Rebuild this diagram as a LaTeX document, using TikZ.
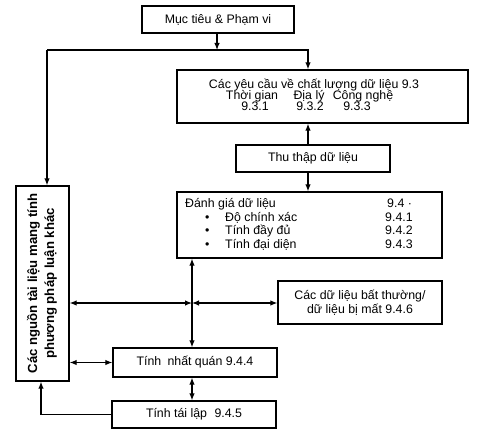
\documentclass[tikz,border=0pt]{standalone}
\usepackage{fontspec}
\setmainfont{Liberation Sans}
\usetikzlibrary{arrows.meta}
\begin{document}
\begin{tikzpicture}[x=1bp,y=-1bp,
  every node/.style={font=\fontsize{12.4}{14}\selectfont, inner sep=0pt},
  box/.style={draw, line width=1.3bp, fill=white},
  txt/.style={anchor=base},
  txtw/.style={anchor=base west},
  conn/.style={line width=1.2bp},
  arr/.style={conn, -{Latex[length=7bp,width=5.5bp]}},
  dbl/.style={conn, {Latex[length=7bp,width=5.5bp]}-{Latex[length=7bp,width=5.5bp]}}]
\useasboundingbox (0,0) rectangle (477,441);
% boxes
\node (goal) [box, minimum width=152bp, minimum height=27bp] at (218,19.5) {Mục tiêu \& Phạm vi};
\node (req) [box, minimum width=291bp, minimum height=53bp] at (322.5,96.5) {};
\node (collect) [box, minimum width=154bp, minimum height=27bp] at (313,158.5) {Thu thập dữ liệu};
\node (eval) [box, minimum width=265bp, minimum height=66bp] at (309.5,225) {};
\node (other) [box, minimum width=53bp, minimum height=195bp] at (42.5,283.5) {};
\node (anom) [box, minimum width=164bp, minimum height=43bp, align=center,
  font=\fontsize{12.4}{14}\selectfont] at (360,302.5) {Các dữ liệu bất thường/\\dữ liệu bị mất 9.4.6};
\node (cons) [box, minimum width=164bp, minimum height=29bp] at (195,362.5) {Tính\hspace{0.5em}nhất quán 9.4.4};
\node (repro) [box, minimum width=164bp, minimum height=27bp] at (194,414.5) {Tính tái lập\hspace{0.6em}9.4.5};
% texts in requirement box
\node (r0) [txt] at (314,88.5) {Các yêu cầu về chất lượng dữ liệu 9.3};
\node (r1) [txt] at (252,99.5) {Thời gian};
\node (r2) [txt] at (309,99.5) {Địa lý};
\node (r3) [txt] at (363,99.5) {Công nghệ};
\node (r4) [txt] at (255,111) {9.3.1};
\node (r5) [txt] at (310,111) {9.3.2};
\node (r6) [txt] at (357,111) {9.3.3};
% texts in evaluation box
\node (e0) [txtw] at (185,207.5) {Đánh giá dữ liệu};
\node (e0n) [txtw] at (387,207.5) {9.4 ·};
\node (b1) [txtw] at (205,221.5) {•};
\node (b2) [txtw] at (205,234.5) {•};
\node (b3) [txtw] at (205,248.5) {•};
\node (e1) [txtw] at (225,221.5) {Độ chính xác};
\node (e2) [txtw] at (225,234.5) {Tính đầy đủ};
\node (e3) [txtw] at (225,248.5) {Tính đại diện};
\node (e1n) [txtw] at (385,221.5) {9.4.1};
\node (e2n) [txtw] at (385,234.5) {9.4.2};
\node (e3n) [txtw] at (385,248.5) {9.4.3};
% rotated text in left box
\node (otherT) [rotate=90, align=center, font=\fontsize{13.2}{17}\selectfont\bfseries]
  at (42,283.5) {Các nguồn tài liệu mang tính\\phương pháp luận khác};
% connectors
\coordinate (j) at (217,50);
\coordinate (jl) at (47,50);
\coordinate (jr) at (308,50);
\coordinate (v) at (192,303);
\coordinate (lb) at (41,414.5);
\draw[arr] (goal.south -| j) -- (j);
\draw[arr] (jl) -- (jr) -- (req.north -| jr);
\draw[arr] (jl) -- (other.north -| jl);
\draw[arr] (collect.north -| jr) -- (req.south -| jr);
\draw[arr] (collect.south -| jr) -- (eval.north -| jr);
\draw[dbl] (eval.south -| v) -- (cons.north -| v);
\draw[dbl] (other.east |- v) -- (v);
\draw[dbl] (v) -- (anom.west |- v);
\draw[dbl] (other.east |- cons) -- (cons.west);
\draw[dbl] (cons.south -| v) -- (repro.north -| v);
\draw[arr] (repro.west) -- (lb) -- (other.south -| lb);
\end{tikzpicture}
\end{document}
